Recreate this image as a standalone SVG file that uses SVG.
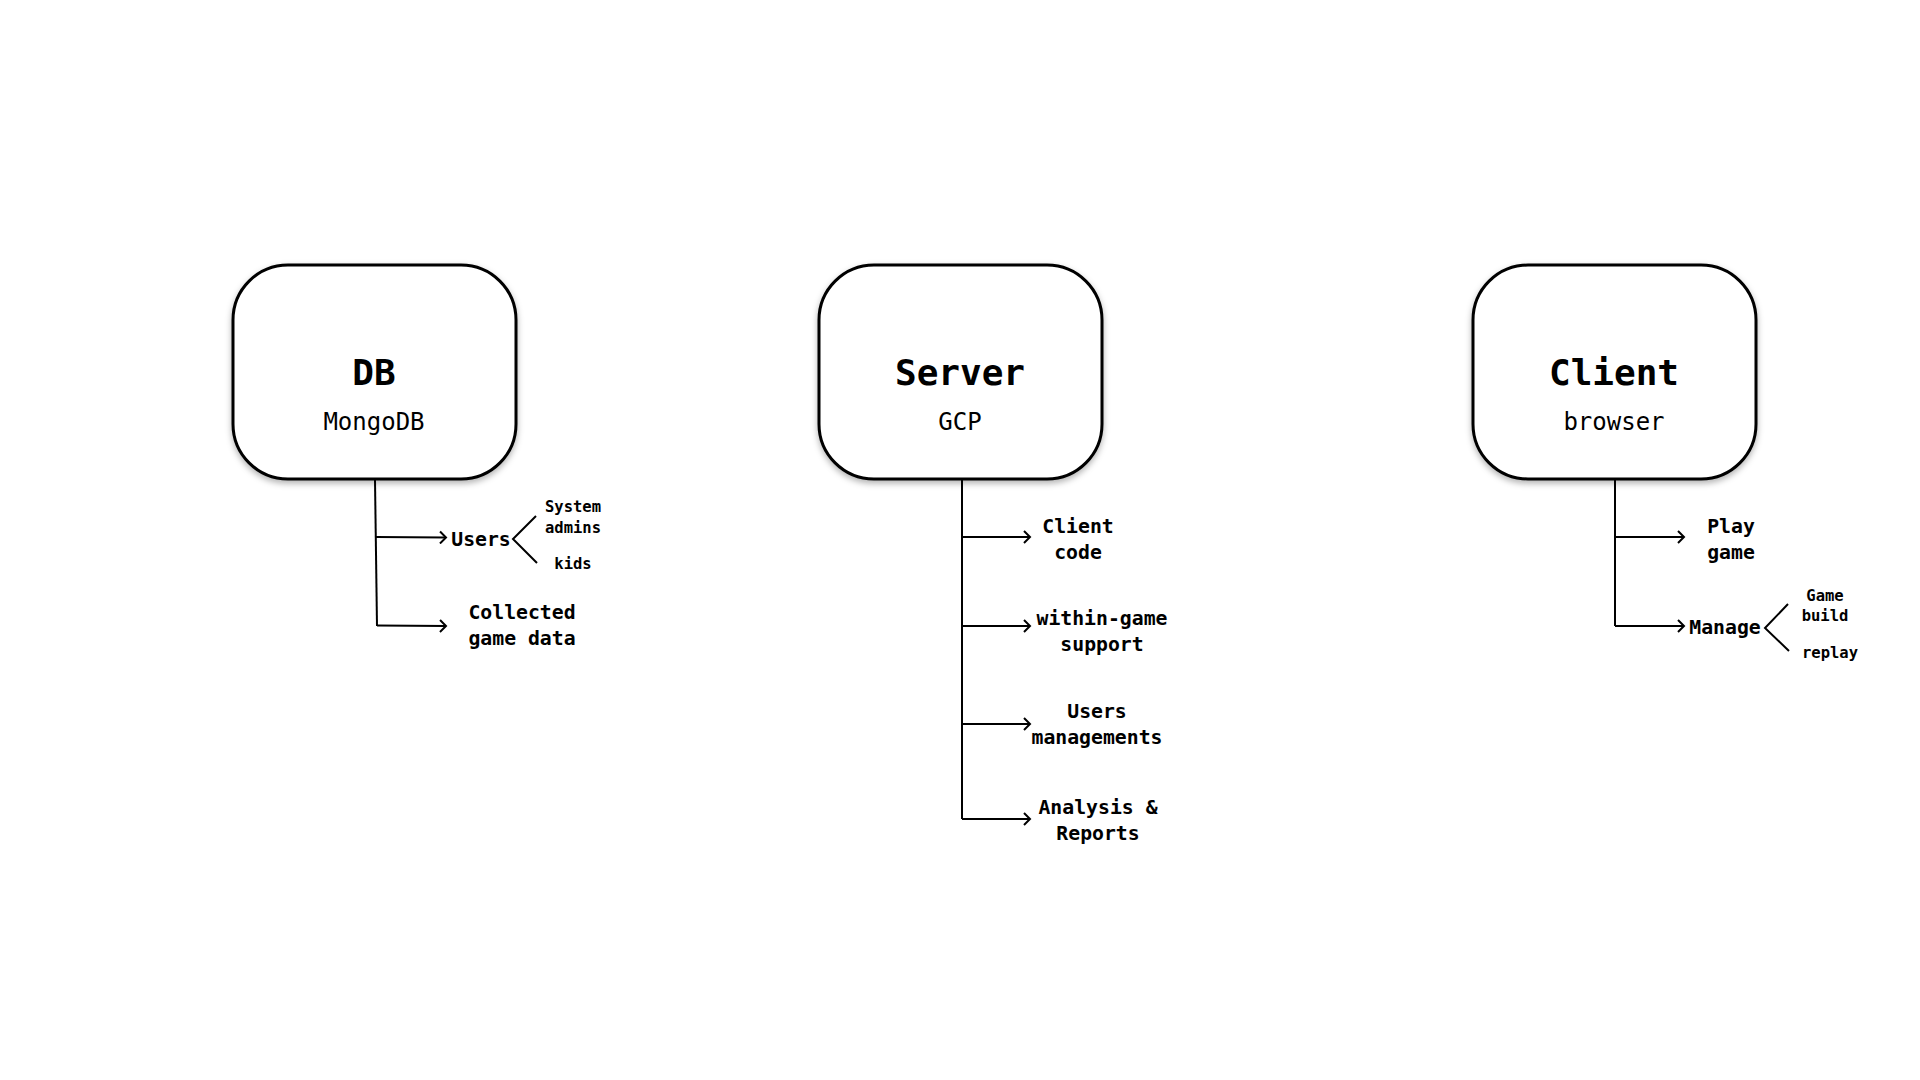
<svg xmlns="http://www.w3.org/2000/svg" width="1920" height="1080" viewBox="0 0 1920 1080">
<style>
.box{fill:#fff;stroke:#000;stroke-width:3;filter:url(#sh)}
.title{font-family:"DejaVu Sans Mono","Liberation Mono",monospace;font-weight:bold;font-size:36px;text-anchor:middle;fill:#000}
.sub{font-family:"DejaVu Sans Mono","Liberation Mono",monospace;font-size:24px;text-anchor:middle;fill:#000}
.lbl{font-family:"DejaVu Sans Mono","Liberation Mono",monospace;font-weight:bold;font-size:19.8px;text-anchor:middle;fill:#000}
.sm{font-family:"DejaVu Sans Mono","Liberation Mono",monospace;font-weight:bold;font-size:15.5px;text-anchor:middle;fill:#000}
.ln{fill:none;stroke:#000;stroke-width:2}
</style>
<defs>
<filter id="sh" x="-10%" y="-10%" width="120%" height="130%">
<feDropShadow dx="0" dy="3" stdDeviation="3" flood-color="#000" flood-opacity="0.3"/>
</filter>
<marker id="ar" markerWidth="12" markerHeight="14" refX="9" refY="7" orient="auto" markerUnits="userSpaceOnUse">
<path d="M3,1 L9,7 L3,13" fill="none" stroke="#000" stroke-width="2"/>
</marker>
</defs>
<rect width="1920" height="1080" fill="#fff"/>

<g id="node-db">
<rect class="box" x="233" y="265" width="283" height="214" rx="55" ry="55"/>
<text class="title" x="374" y="385">DB</text>
<text class="sub" x="374" y="430">MongoDB</text>
</g>
<g id="node-server">
<rect class="box" x="819" y="265" width="283" height="214" rx="55" ry="55"/>
<text class="title" x="960" y="385">Server</text>
<text class="sub" x="960" y="430">GCP</text>
</g>
<g id="node-client">
<rect class="box" x="1473" y="265" width="283" height="214" rx="55" ry="55"/>
<text class="title" x="1614" y="385">Client</text>
<text class="sub" x="1614" y="430">browser</text>
</g>

<g id="connectors">
<path class="ln" d="M375,480 L377,626"/>
<path class="ln" d="M376,537 L446,537.5" marker-end="url(#ar)"/>
<path class="ln" d="M377,625.5 L446,626" marker-end="url(#ar)"/>
<path class="ln" d="M536,516 L513,539 L537,563"/>

<path class="ln" d="M962,480 L962,819"/>
<path class="ln" d="M962,537 L1030,537" marker-end="url(#ar)"/>
<path class="ln" d="M962,626 L1030,626" marker-end="url(#ar)"/>
<path class="ln" d="M962,724 L1030,724" marker-end="url(#ar)"/>
<path class="ln" d="M962,819 L1030,819" marker-end="url(#ar)"/>

<path class="ln" d="M1615,480 L1615,626"/>
<path class="ln" d="M1615,537 L1684,537" marker-end="url(#ar)"/>
<path class="ln" d="M1615,626 L1684,626" marker-end="url(#ar)"/>
<path class="ln" d="M1788,604 L1765,628 L1789,651"/>
</g>

<g id="labels-db">
<text class="lbl" x="481" y="546">Users</text>
<text class="sm" x="573" y="512">System</text>
<text class="sm" x="573" y="533">admins</text>
<text class="sm" x="573" y="569">kids</text>
<text class="lbl" x="522" y="619">Collected</text>
<text class="lbl" x="522" y="645">game data</text>
</g>
<g id="labels-server">
<text class="lbl" x="1078" y="533">Client</text>
<text class="lbl" x="1078" y="559">code</text>
<text class="lbl" x="1102" y="625">within-game</text>
<text class="lbl" x="1102" y="651">support</text>
<text class="lbl" x="1097" y="718">Users</text>
<text class="lbl" x="1097" y="744">managements</text>
<text class="lbl" x="1098" y="814">Analysis &amp;</text>
<text class="lbl" x="1098" y="840">Reports</text>
</g>
<g id="labels-client">
<text class="lbl" x="1731" y="533">Play</text>
<text class="lbl" x="1731" y="559">game</text>
<text class="lbl" x="1725" y="634">Manage</text>
<text class="sm" x="1825" y="601">Game</text>
<text class="sm" x="1825" y="621">build</text>
<text class="sm" x="1830" y="658">replay</text>
</g>
</svg>
